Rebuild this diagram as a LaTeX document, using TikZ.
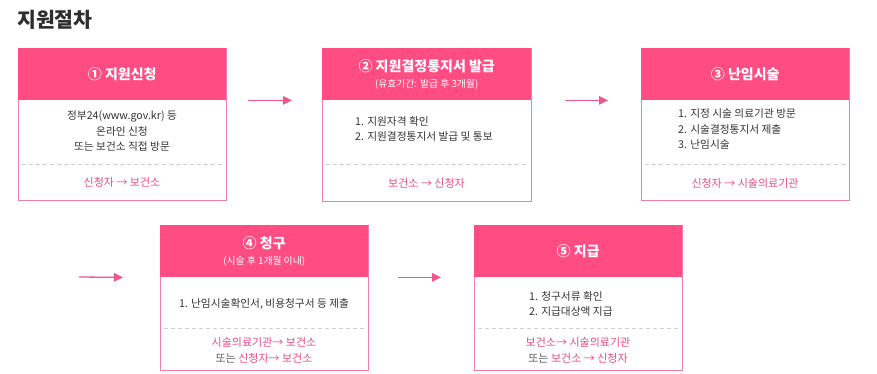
\documentclass[tikz,border=0pt]{standalone}
\usepackage{fontspec}
\setmainfont{Noto Sans CJK KR}
\usetikzlibrary{arrows.meta}
\definecolor{hdrpink}{HTML}{FF4D84}
\definecolor{brdpink}{HTML}{F27EA8}
\definecolor{txtpink}{HTML}{EC4C86}
\definecolor{arrpink}{HTML}{F0558C}
\definecolor{bodytxt}{HTML}{333333}
\definecolor{dashgray}{HTML}{CFCFCF}
\newcommand{\hsubfont}{\fontsize{9.8}{11}\selectfont\mdseries}
\tikzset{
  hdrbox/.style={fill=hdrpink, draw=none, minimum width=208pt, minimum height=52pt,
    anchor=north west, inner sep=0pt, text=white, align=center,
    font=\fontsize{14}{15}\selectfont\bfseries},
  frame/.style={draw=brdpink, line width=0.9pt},
  sep/.style={draw=dashgray, line width=0.8pt, dash pattern=on 4pt off 3pt},
  bodytext/.style={text=bodytxt, font=\fontsize{10.7}{15.5}\selectfont, inner sep=0pt},
  pinktext/.style={text=txtpink, font=\fontsize{11}{16}\selectfont, inner sep=0pt, align=center},
  arr/.style={draw=arrpink, line width=1.3pt, -{Triangle[length=9pt,width=8.5pt]}},
}
\begin{document}
\begin{tikzpicture}[x=1pt,y=-1pt]
\useasboundingbox[fill=white] (0,0) rectangle (877,373);
\node[anchor=west, inner sep=0pt, text=bodytxt!90!black, font=\fontsize{20.5}{22}\selectfont\bfseries] (title) at (17,20) {지원절차};

% Box 1
\coordinate (a1) at (18,48);
\coordinate (e1) at (226,200);
\draw[frame] (a1) rectangle (e1);
\node[hdrbox] (h1) at (a1) {① 지원신청};
\draw[sep] (22,164) -- (222,164);
\node[bodytext, align=center] (t1) at (122,131) {정부24(www.gov.kr) 등\\온라인 신청\\또는 보건소 직접 방문};
\node[pinktext] (p1) at (122,182) {신청자 → 보건소};

% Box 2
\coordinate (a2) at (322,48);
\coordinate (e2) at (531,201);
\draw[frame] (a2) rectangle (e2);
\node[hdrbox, minimum width=209pt] (h2) at (a2) {② 지원결정통지서 발급\\[1pt]{\hsubfont (유효기간: 발급 후 3개월)}};
\draw[sep] (326,164) -- (527,164);
\node[bodytext, anchor=west, align=left] (t2) at (355,129) {1. 지원자격 확인\\2. 지원결정통지서 발급 및 통보};
\node[pinktext] (p2) at (426.5,183) {보건소 → 신청자};

% Box 3
\coordinate (a3) at (641,48);
\coordinate (e3) at (849,200);
\draw[frame] (a3) rectangle (e3);
\node[hdrbox] (h3) at (a3) {③ 난임시술};
\draw[sep] (645,164) -- (845,164);
\node[bodytext, anchor=west, align=left] (t3) at (678,129) {1. 지정 시술 의료기관 방문\\2. 시술결정통지서 제출\\3. 난임시술};
\node[pinktext] (p3) at (745,183) {신청자 → 시술의료기관};

% Box 4
\coordinate (a4) at (160,225);
\coordinate (e4) at (368,370);
\draw[frame] (a4) rectangle (e4);
\node[hdrbox] (h4) at (a4) {④ 청구\\[1pt]{\hsubfont (시술 후 1개월 이내)}};
\draw[sep] (164,328) -- (364,328);
\node[bodytext, align=center] (t4) at (264,304) {1. 난임시술확인서, 비용청구서 등 제출};
\node[pinktext] (p4) at (264,350) {시술의료기관→ 보건소\\{\color{bodytxt!80}또는} 신청자→ 보건소};

% Box 5
\coordinate (a5) at (474,225);
\coordinate (e5) at (682,370);
\draw[frame] (a5) rectangle (e5);
\node[hdrbox] (h5) at (a5) {⑤ 지급};
\draw[sep] (478,328) -- (678,328);
\node[bodytext, anchor=west, align=left] (t5) at (529,304) {1. 청구서류 확인\\2. 지급대상액 지급};
\node[pinktext] (p5) at (578,350) {보건소→ 시술의료기관\\{\color{bodytxt!80}또는} 보건소 → 신청자};

% Arrows
\draw[arr] ([xshift=22pt]h1.south east) -- ([xshift=-30pt]h2.south west);
\draw[arr] ([xshift=34pt]h2.south east) -- ([xshift=-33pt]h3.south west);
\coordinate (s4) at (79,277);
\draw[arr] (s4) -- ([xshift=-37pt]h4.south west);
\draw[arr] ([xshift=30pt]h4.south east) -- ([xshift=-33pt]h5.south west);
\end{tikzpicture}
\end{document}
